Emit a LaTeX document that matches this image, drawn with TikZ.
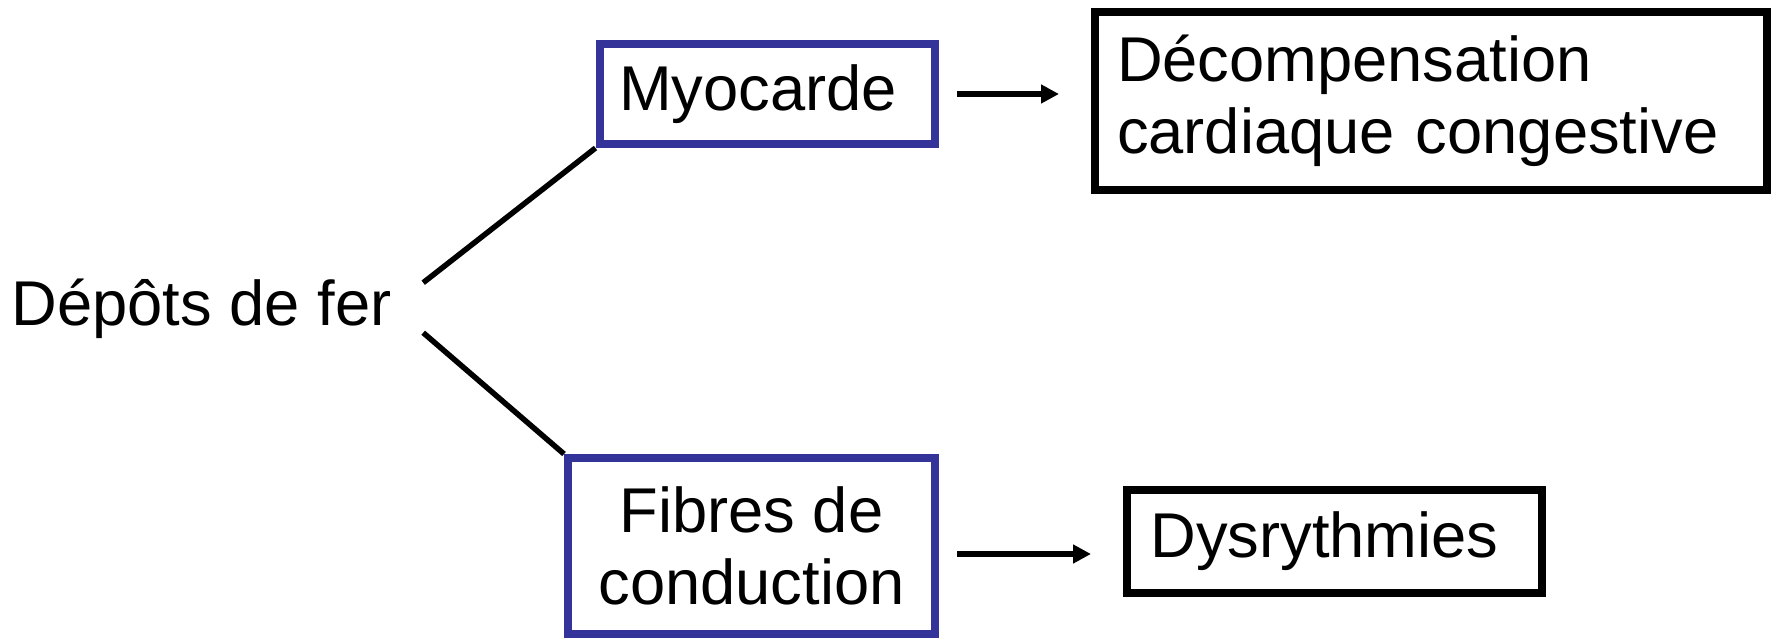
\documentclass[tikz,border=0pt]{standalone}
\usepackage{fontspec}
\setmainfont{Liberation Sans}
\usetikzlibrary{arrows.meta,positioning}
\definecolor{cbleu}{HTML}{333399}
\definecolor{cnoir}{HTML}{000000}
\tikzset{
  texte/.style={font=\fontsize{18}{20.5}\selectfont,align=center},
  cadre/.style={texte,draw=cnoir,line width=0.8mm,inner sep=0pt},
  cadreb/.style={cadre,draw=cbleu},
  fleche/.style={-{Triangle[length=1.8mm,width=1.8mm]},draw=cnoir,line width=0.6mm},
  trait/.style={draw=cnoir,line width=0.55mm},
}
\begin{document}
\begin{tikzpicture}[x=1cm,y=1cm]
\useasboundingbox (0,0) rectangle (17.73,6.38);

\node[texte,inner sep=0pt,anchor=base west] (depots) at (0.11,3.12) {Dépôts de fer};

\node[cadreb,minimum width=3.35cm,minimum height=1.00cm] (myo) at (7.67,5.44)
  {Myocarde\hspace*{1.8mm}};
\node[cadreb,minimum width=3.67cm,minimum height=1.76cm] (fib) at (7.515,0.92)
  {Fibres de\\conduction};

\node[cadre,minimum width=6.72cm,minimum height=1.78cm,text width=6.28cm,align=left]
  (decomp) at (14.31,5.37) {Décompensation\\cardiaque congestive};
\node[cadre,minimum width=4.15cm,minimum height=1.03cm] (dys) at (13.345,0.965)
  {Dysrythmies\hspace*{2mm}};

% les deux branches partent juste a droite du texte
\draw[trait] ([shift={(3.1mm,3.4mm)}]depots.mid east) -- (myo.south west);
\draw[trait] ([shift={(3.1mm,-1.6mm)}]depots.mid east) -- (fib.north west);

\draw[fleche] ([xshift=1.8mm]myo.east) -- ([xshift=-3.2mm]myo.east -| decomp.west);
\draw[fleche] ([xshift=1.8mm,yshift=-0.8mm]fib.east) -- ([xshift=-3.2mm,yshift=-0.8mm]fib.east -| dys.west);

\end{tikzpicture}
\end{document}
